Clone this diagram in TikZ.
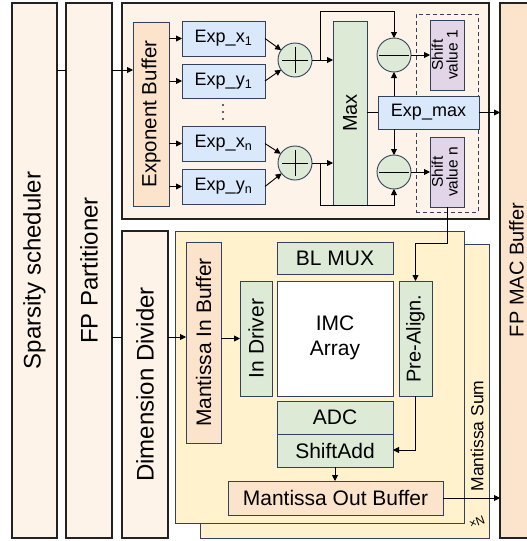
\documentclass[tikz,border=0pt]{standalone}
\usepackage{fontspec}
\setmainfont{Liberation Sans}
\usetikzlibrary{arrows.meta}
\definecolor{cream}{HTML}{FDF3E8}
\definecolor{mantY}{HTML}{FFF2CC}
\definecolor{peach}{HTML}{FCE3CB}
\definecolor{blueF}{HTML}{DAE8FC}
\definecolor{greenF}{HTML}{DDEBD6}
\definecolor{purpF}{HTML}{E1D5E7}
\definecolor{edge}{HTML}{33415C}
\definecolor{outer}{HTML}{222222}
\newcommand\mkbox[7]{\node[#2,minimum width={((#5)-(#3))*1pt},minimum height={((#6)-(#4))*1pt}] (#1) at ({((#3)+(#5))/2},{((#4)+(#6))/2}) {#7};}
\newcommand\fs[1]{\fontsize{#1pt}{#1pt}\selectfont}
\newcommand\rot[1]{\rotatebox{90}{#1}}
\tikzset{
  box/.style={draw=edge, line width=0.9pt, inner sep=0pt, outer sep=0pt, align=center},
  obox/.style={draw=outer, line width=1.1pt, inner sep=0pt, outer sep=0pt, align=center},
  dbox/.style={draw=edge, line width=0.9pt, dash pattern=on 4pt off 3pt, inner sep=0pt, outer sep=0pt},
  circ/.style={circle, draw=edge, line width=0.9pt, fill=greenF, minimum size=34pt, inner sep=0pt, outer sep=0pt},
  dotc/.style={circle, fill=black!80, minimum size=2.4pt, inner sep=0pt},
  ln/.style={line width=0.9pt, draw=black},
  arr/.style={ln, -{Triangle[length=6pt,width=6pt]}},
}
\begin{document}
\begin{tikzpicture}[x=1pt,y=-1pt]
\useasboundingbox (0,0) rectangle (527,541);
\clip (0,0) rectangle (527,541);
% left columns
\mkbox{ss}{obox,fill=cream}{12}{3}{57}{538}{\rot{\fs{24}Sparsity scheduler}}
\mkbox{fpp}{obox,fill=cream}{66}{3}{112}{538}{\rot{\fs{24}FP Partitioner}}
\mkbox{expo}{obox,fill=cream}{122}{3}{489}{219}{}
\mkbox{dd}{obox,fill=cream}{122}{231}{168}{538}{\rot{\fs{24}Dimension Divider}}
\mkbox{fpmac}{obox,fill=peach}{500}{3}{545}{538}{}
\node[rotate=90, inner sep=0pt] (fpmactxt) at (516.5,270) {\fs{20}FP MAC Buffer};
% exponent part
\mkbox{eb}{box,fill=peach}{133}{22}{169}{206}{\rot{\fs{20.5}Exponent Buffer}}
\mkbox{ex1}{box,fill=blueF}{182}{21}{265}{56}{\fs{18}Exp\_x\textsubscript{1}}
\mkbox{ey1}{box,fill=blueF}{182}{64}{265}{98}{\fs{18}Exp\_y\textsubscript{1}}
\mkbox{exn}{box,fill=blueF}{182}{126}{265}{161}{\fs{18}Exp\_x\textsubscript{n}}
\mkbox{eyn}{box,fill=blueF}{182}{169}{265}{204}{\fs{18}Exp\_y\textsubscript{n}}
\node[dotc] (d1) at (223,105) {};
\node[dotc] (d2) at (223,112) {};
\node[dotc] (d3) at (223,119) {};
\node[circ] (p1) at (295,60) {};
\node[circ] (p2) at (295,163) {};
\mkbox{mx}{box,fill=greenF}{333}{21}{367}{205}{\rot{\fs{20}Max}}
\mkbox{dsh}{dbox}{416}{14}{478}{212}{}
\node[circ] (m1) at (394,55) {};
\node[circ] (m2) at (394,172) {};
\mkbox{s1}{box,fill=purpF}{430}{20}{464}{90}{\rot{\fs{15.5}\begin{tabular}{@{}c@{}}Shift\\[-1pt]value 1\end{tabular}}}
\mkbox{sn}{box,fill=purpF}{430}{137}{464}{207}{\rot{\fs{15.5}\begin{tabular}{@{}c@{}}Shift\\[-1pt]value n\end{tabular}}}
\mkbox{emax}{box,fill=blueF}{378}{96}{479}{129}{\fs{18}Exp\_max}
% plus / minus signs
\foreach \c in {p1,p2} {
  \draw[line width=1pt] ([yshift=13pt]\c.center) -- ([yshift=-13pt]\c.center);
  \draw[line width=1pt] ([xshift=-13pt]\c.center) -- ([xshift=13pt]\c.center);
}
\foreach \c in {m1,m2} {
  \draw[line width=1pt] ([xshift=-15pt]\c.center) -- ([xshift=15pt]\c.center);
}
% mantissa part
\mkbox{mback}{box,fill=mantY}{200}{244}{489}{538}{}
\mkbox{mfront}{box,fill=mantY}{175}{231}{464}{523}{}
\mkbox{mib}{box,fill=peach}{186}{242}{221}{443}{\rot{\fs{21}Mantissa In Buffer}}
\mkbox{idrv}{box,fill=greenF}{240}{281}{272}{396}{\rot{\fs{21}In Driver}}
\mkbox{imc}{box,fill=white}{277}{281}{393}{396}{\fs{21}\begin{tabular}{@{}c@{}}IMC\\[4pt]Array\end{tabular}}
\mkbox{blmux}{box,fill=greenF}{277}{242}{393}{274}{\fs{21}BL MUX}
\mkbox{pre}{box,fill=greenF}{399}{281}{432}{396}{\rot{\fs{20}Pre-Align.}}
\mkbox{adc}{box,fill=greenF}{277}{401}{393}{434}{\fs{21}ADC}
\mkbox{sa}{box,fill=greenF}{277}{434}{393}{467}{\fs{21}ShiftAdd}
\mkbox{mob}{box,fill=peach}{228}{481}{443}{515}{\fs{21}Mantissa Out Buffer}
\node[rotate=90] (msum) at (477,436) {\fs{17.5}Mantissa Sum};
\node[rotate=200, inner sep=0pt] (nx) at (477,522) {\fs{12}N×};
% connectors
\coordinate (ya) at (0,70);
\coordinate (yb) at (0,337);
\draw[ln] (ss.east|-ya) -- (fpp.west|-ya);
\draw[arr] (fpp.east|-ya) -- (eb.west|-ya);
\draw[ln] (fpp.east|-yb) -- (dd.west|-yb);
\draw[arr] (dd.east|-yb) -- (mib.west|-yb);
\draw[arr] (mib.east|-idrv) -- (idrv.west);
\foreach \e in {ex1,ey1,exn,eyn} { \draw[arr] (eb.east|-\e) -- (\e.west); }
\draw[arr] (ex1.east) -- (p1);
\draw[arr] (ey1.east) -- (p1);
\draw[arr] (exn.east) -- (p2);
\draw[arr] (eyn.east) -- (p2);
\draw[arr] (p1.east) -- (mx.west|-p1);
\draw[arr] (p2.east) -- (mx.west|-p2);
\coordinate (br1) at (320,60);
\coordinate (br2) at (320,163);
\coordinate (top1) at (320,11);
\coordinate (bot2) at (320,205);
\draw[arr] (br1) -- (top1) -| (m1.north);
\draw[arr] (br2) -- (bot2) -| (m2.south);
\draw[ln] (mx.east|-emax) -- (emax.west);
\draw[arr] (emax.north-|m1) -- (m1.south);
\draw[arr] (emax.south-|m2) -- (m2.north);
\draw[arr] (m1.east) -- (s1.west|-m1);
\draw[arr] (m2.east) -- (sn.west|-m2);
\draw[arr] (emax.east) -- (fpmac.west|-emax);
\coordinate (bend) at (0,243);
\draw[arr] (sn.south) -- (sn.south|-bend) -| (pre.north);
\coordinate (ysa) at (0,450);
\draw[arr] (pre.south) |- (sa.east|-ysa);
\draw[arr] (sa.south) -- (sa.south|-mob.north);
\draw[arr] (mob.east) -- (fpmac.west|-mob.east);
\end{tikzpicture}
\end{document}
